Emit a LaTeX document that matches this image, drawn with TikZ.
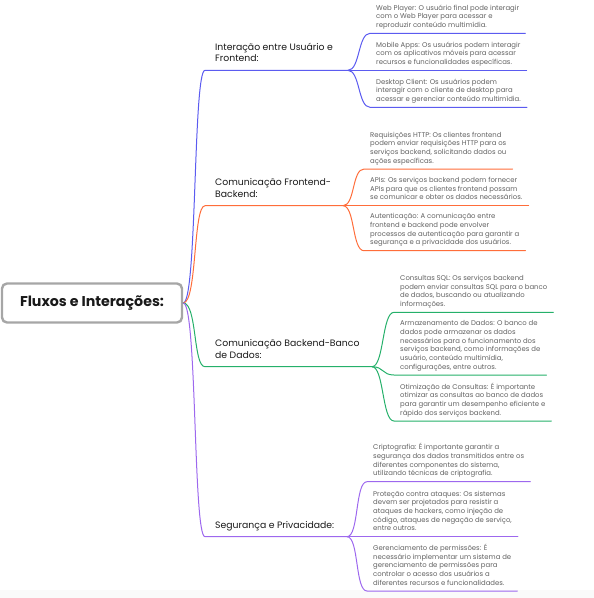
\documentclass[tikz,border=0pt]{standalone}
\usepackage{fontspec}
\setmainfont{Poppins}
\usepackage{tikz}

\definecolor{blueline}{HTML}{5B5BF0}
\definecolor{orangeline}{HTML}{FF6D3A}
\definecolor{greenline}{HTML}{25B06A}
\definecolor{purpleline}{HTML}{9D68EE}

\begin{document}
\begin{tikzpicture}[x=1pt,y=-1pt,line cap=round,
  root node/.style={draw=gray!70,line width=2.4pt,rounded corners=5pt,minimum width=180pt,minimum height=39pt,font=\bfseries\fontsize{14.2}{17}\selectfont,text=black!90},
  topic node/.style={anchor=south west,align=left,inner xsep=10pt,inner ysep=6.5pt,text depth=2pt,font=\fontsize{9.3}{11.3}\selectfont,text=black!90},
  leaf node/.style={anchor=south west,align=left,inner xsep=6pt,inner ysep=3.8pt,text depth=1.8pt,font=\fontsize{6.9}{8.7}\selectfont,text=black!62},
  branch/.style={line width=1pt}]

  \useasboundingbox (0,0) rectangle (594,598);
  \fill[gray!4] (0,590) rectangle (594,598);

  \node[root node] (root) at (92,303) {Fluxos e Interações:};

  % joints where the leaves split off
  \coordinate (j1) at (348,70.3);
  \coordinate (j2) at (343,205.7);
  \coordinate (j3) at (372,366.7);
  \coordinate (j4) at (347,536.7);

  \node[topic node] (m1) at (205,70.3) {Interação entre Usuário e\\Frontend:};
  \node[topic node] (m2) at (205,205.7) {Comunicação Frontend-\\Backend:};
  \node[topic node] (m3) at (205,366.7) {Comunicação Backend-Banco\\de Dados:};
  \node[topic node] (m4) at (205,536.7) {Segurança e Privacidade:};

  \node[leaf node] (c11) at (370,33.3) {Web Player: O usuário final pode interagir\\com o Web Player para acessar e\\reproduzir conteúdo multimídia.};
  \node[leaf node] (c12) at (370,70.3) {Mobile Apps: Os usuários podem interagir\\com os aplicativos móveis para acessar\\recursos e funcionalidades específicas.};
  \node[leaf node] (c13) at (370,107.3) {Desktop Client: Os usuários podem\\interagir com o cliente de desktop para\\acessar e gerenciar conteúdo multimídia.};

  \node[leaf node] (c21) at (364,169) {Requisições HTTP: Os clientes frontend\\podem enviar requisições HTTP para os\\serviços backend, solicitando dados ou\\ações específicas.};
  \node[leaf node] (c22) at (364,205.7) {APIs: Os serviços backend podem fornecer\\APIs para que os clientes frontend possam\\se comunicar e obter os dados necessários.};
  \node[leaf node] (c23) at (364,250.7) {Autenticação: A comunicação entre\\frontend e backend pode envolver\\processos de autenticação para garantir a\\segurança e a privacidade dos usuários.};

  \node[leaf node] (c31) at (394,312.3) {Consultas SQL: Os serviços backend\\podem enviar consultas SQL para o banco\\de dados, buscando ou atualizando\\informações.};
  \node[leaf node] (c32) at (394,375) {Armazenamento de Dados: O banco de\\dados pode armazenar os dados\\necessários para o funcionamento dos\\serviços backend, como informações de\\usuário, conteúdo multimídia,\\configurações, entre outros.};
  \node[leaf node] (c33) at (394,421) {Otimização de Consultas: É importante\\otimizar as consultas ao banco de dados\\para garantir um desempenho eficiente e\\rápido dos serviços backend.};

  \node[leaf node] (c41) at (367,481.7) {Criptografia: É importante garantir a\\segurança dos dados transmitidos entre os\\diferentes componentes do sistema,\\utilizando técnicas de criptografia.};
  \node[leaf node] (c42) at (367,536.7) {Proteção contra ataques: Os sistemas\\devem ser projetados para resistir a\\ataques de hackers, como injeção de\\código, ataques de negação de serviço,\\entre outros.};
  \node[leaf node] (c43) at (367,591) {Gerenciamento de permissões: É\\necessário implementar um sistema de\\gerenciamento de permissões para\\controlar o acesso dos usuários a\\diferentes recursos e funcionalidades.};

  % root to topics
  \draw[branch,blueline] (root.east) .. controls +(14,0) and +(-12,0) .. (m1.south west) -- (j1);
  \draw[branch,orangeline] (root.east) .. controls +(14,0) and +(-12,0) .. (m2.south west) -- (j2);
  \draw[branch,greenline] (root.east) .. controls +(14,0) and +(-12,0) .. (m3.south west) -- (j3);
  \draw[branch,purpleline] (root.east) .. controls +(14,0) and +(-12,0) .. (m4.south west) -- (j4);

  % topics to leaves
  \foreach \j/\c/\col in {j1/c11/blueline,j1/c12/blueline,j1/c13/blueline,
                          j2/c21/orangeline,j2/c22/orangeline,j2/c23/orangeline,
                          j3/c31/greenline,j3/c32/greenline,j3/c33/greenline,
                          j4/c41/purpleline,j4/c42/purpleline,j4/c43/purpleline}
    \draw[branch,\col] (\j) .. controls +(12,0) and +(-12,0) .. (\c.south west) -- (\c.south east);
\end{tikzpicture}
\end{document}
